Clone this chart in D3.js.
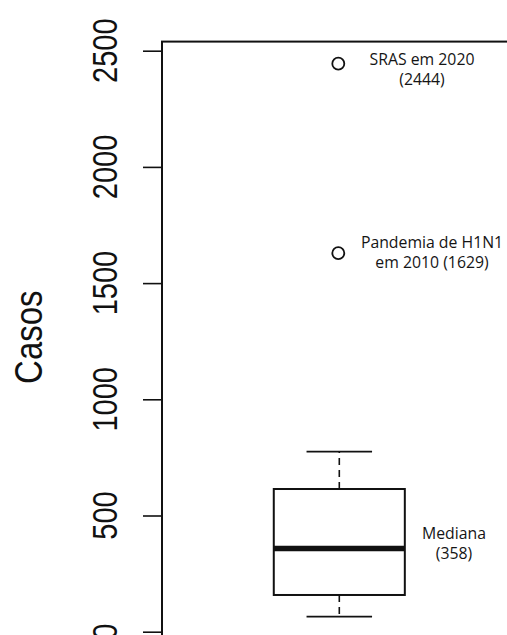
<!DOCTYPE html>
<html>
<head>
<meta charset="utf-8">
<script src="https://cdn.jsdelivr.net/npm/d3@7"></script>
<style>
  body { margin: 0; background: #fff; }
  svg { display: block; }
</style>
</head>
<body>
<div id="chart"></div>
<script>
// boxplot summary
var stats = { lowWhisker: 65, q1: 158, median: 358, q3: 614, highWhisker: 775 };
var outliers = [2444, 1629];
var outlierLabels = [["SRAS em 2020", "(2444)"], ["Pandemia de H1N1", "em 2010 (1629)"]];
var medianLabel = ["Mediana", "(358)"];
var yTicks = [0, 500, 1000, 1500, 2000, 2500];
var yTitle = "Casos";

var width = 507, height = 635;

var svg = d3.select("#chart").append("svg")
    .attr("width", width)
    .attr("height", height);

var yScale = d3.scaleLinear()
    .domain([0, 2500])
    .range([631.7, 50.7]);

// R style: 4% padding around the data range
var lo = Math.min(stats.lowWhisker, d3.min(outliers));
var hi = Math.max(stats.highWhisker, d3.max(outliers));
var pad = (hi - lo) * 0.04;
var yLim = [lo - pad, hi + pad];

var xScale = d3.scaleLinear()
    .domain([0, 2])
    .range([175.5, 503.1]);

var plotLeft = 162;

// plot box (right and bottom edges fall outside the picture)
svg.append("rect")
    .attr("x", plotLeft)
    .attr("y", yScale(yLim[1]))
    .attr("width", 600)
    .attr("height", yScale(yLim[0]) - yScale(yLim[1]))
    .attr("fill", "none")
    .attr("stroke", "#111")
    .attr("stroke-width", 2);

// y axis
var axis = svg.append("g")
    .attr("transform", "translate(" + plotLeft + ",0)")
    .call(d3.axisLeft(yScale).tickValues(yTicks).tickSize(19).tickPadding(0).tickFormat(d3.format("d")));
axis.select(".domain").remove();
axis.selectAll(".tick line").attr("stroke", "#111").attr("stroke-width", 1.6);
axis.selectAll(".tick text").remove();

svg.append("g").selectAll("text")
    .data(yTicks)
    .join("text")
    .attr("transform", function(d) { return "translate(117," + yScale(d) + ") rotate(-90) scale(1,1.2)"; })
    .attr("text-anchor", "middle")
    .attr("font-family", "Liberation Sans, Arial, sans-serif")
    .attr("font-size", 29)
    .attr("fill", "#111")
    .text(function(d) { return d; });

svg.append("text")
    .attr("transform", "translate(42," + ((yScale(yLim[0]) + yScale(yLim[1])) / 2 - 3) + ") rotate(-90) scale(1,1.2)")
    .attr("text-anchor", "middle")
    .attr("font-family", "Liberation Sans, Arial, sans-serif")
    .attr("font-size", 33)
    .attr("fill", "#111")
    .text(yTitle);

// box
var cx = xScale(1);
var boxW = xScale(1.4) - xScale(0.6);
var capW = boxW / 2;
var g = svg.append("g").attr("stroke", "#111").attr("fill", "none");

// whiskers
g.append("line")
    .attr("x1", cx).attr("x2", cx)
    .attr("y1", yScale(stats.q3)).attr("y2", yScale(stats.highWhisker))
    .attr("stroke-width", 1.6)
    .attr("stroke-dasharray", "7,5");
g.append("line")
    .attr("x1", cx).attr("x2", cx)
    .attr("y1", yScale(stats.q1)).attr("y2", yScale(stats.lowWhisker))
    .attr("stroke-width", 1.6)
    .attr("stroke-dasharray", "7,5");
[stats.highWhisker, stats.lowWhisker].forEach(function(v) {
    g.append("line")
        .attr("x1", cx - capW / 2).attr("x2", cx + capW / 2)
        .attr("y1", yScale(v)).attr("y2", yScale(v))
        .attr("stroke-width", 1.8);
});

g.append("rect")
    .attr("x", cx - boxW / 2)
    .attr("y", yScale(stats.q3))
    .attr("width", boxW)
    .attr("height", yScale(stats.q1) - yScale(stats.q3))
    .attr("stroke-width", 2);

g.append("line")
    .attr("x1", cx - boxW / 2).attr("x2", cx + boxW / 2)
    .attr("y1", yScale(stats.median)).attr("y2", yScale(stats.median))
    .attr("stroke-width", 5.3);

// outliers
g.selectAll("circle")
    .data(outliers)
    .join("circle")
    .attr("cx", cx - 1)
    .attr("cy", function(d) { return yScale(d); })
    .attr("r", 6)
    .attr("stroke-width", 1.8);

// annotations
var annFont = "Open Sans, Noto Sans, sans-serif";
function annotate(lines, x, y, size) {
    var t = svg.append("text")
        .attr("text-anchor", "middle")
        .attr("font-family", annFont)
        .attr("font-size", size)
        .attr("fill", "#151515");
    lines.forEach(function(s, i) {
        t.append("tspan").attr("x", x).attr("y", y + i * 20.5).text(s);
    });
}
annotate(outlierLabels[0], 422, yScale(outliers[0]) + 1, 15.8);
annotate(outlierLabels[1], 432, yScale(outliers[1]) - 5.5, 15.8);
annotate(medianLabel, 454, yScale(stats.median) - 10, 15.8);
</script>
</body>
</html>
